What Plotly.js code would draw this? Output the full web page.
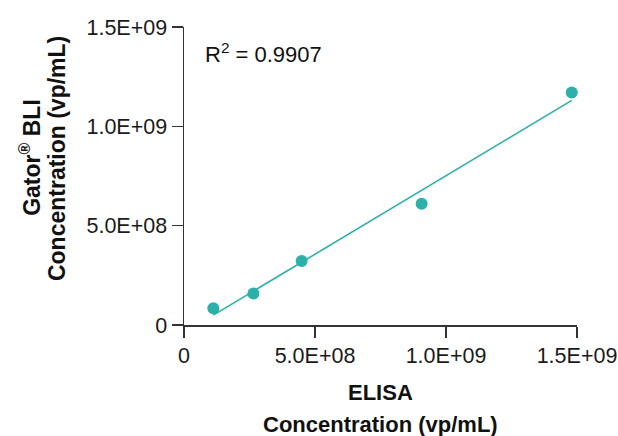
<!DOCTYPE html>
<html>
<head>
<meta charset="utf-8">
<script src="https://cdn.plot.ly/plotly-3.0.1.min.js"></script>
<style>html,body{margin:0;padding:0;background:#fff;}#chart{width:618px;height:436px;}</style>
</head>
<body>
<div id="chart"></div>
<script>
// Data
const elisa = [1.12e8, 2.65e8, 4.49e8, 9.07e8, 1.48e9];
const gator = [8.4e7, 1.59e8, 3.22e8, 6.10e8, 1.17e9];
const tickVals = [0, 5e8, 1e9, 1.5e9];
const tickText = ['0', '5.0E+08', '1.0E+09', '1.5E+09'];
const r2Label = 'R<sup>2</sup> = 0.9907';

// least-squares trendline over the data range
const n = elisa.length;
const mx = elisa.reduce((a, b) => a + b, 0) / n;
const my = gator.reduce((a, b) => a + b, 0) / n;
let sxy = 0, sxx = 0;
for (let i = 0; i < n; i++) { sxy += (elisa[i] - mx) * (gator[i] - my); sxx += (elisa[i] - mx) ** 2; }
const slope = sxy / sxx, icpt = my - slope * mx;
const lx = [Math.min(...elisa), Math.max(...elisa)];
const ly = lx.map(v => slope * v + icpt);

const teal = '#2bb0aa';
const font = 'Liberation Sans, Arial, sans-serif';

const traces = [
  {x: lx, y: ly, mode: 'lines', line: {color: teal, width: 1.6}, hoverinfo: 'skip', cliponaxis: false},
  {x: elisa, y: gator, mode: 'markers', marker: {color: teal, size: 12}, cliponaxis: false}
];

const axisCommon = {
  range: [0, 1.5e9], tickvals: tickVals, ticktext: tickText,
  ticks: 'outside', ticklen: 11, tickwidth: 1.5, tickcolor: '#333',
  showline: true, linecolor: '#333', linewidth: 1.5,
  showgrid: false, zeroline: false,
  tickfont: {family: font, size: 21.5, color: '#1a1a1a'}
};

const layout = {
  width: 618, height: 436,
  margin: {l: 184, r: 41, t: 27, b: 111},
  showlegend: false,
  paper_bgcolor: '#fff', plot_bgcolor: '#fff',
  xaxis: Object.assign({}, axisCommon),
  yaxis: Object.assign({}, axisCommon),
  annotations: [
    {text: r2Label, xref: 'paper', yref: 'paper', x: 0.048, y: 0.913, xanchor: 'left', yanchor: 'middle', showarrow: false,
     font: {family: font, size: 22, color: '#111'}},
    {text: '<b>ELISA</b>', xref: 'paper', yref: 'paper', x: 0.5, y: -0.228, xanchor: 'center', yanchor: 'middle', showarrow: false,
     font: {family: font, size: 22, color: '#111'}},
    {text: '<b>Concentration (vp/mL)</b>', xref: 'paper', yref: 'paper', x: 0.5, y: -0.333, xanchor: 'center', yanchor: 'middle', showarrow: false,
     font: {family: font, size: 22, color: '#111'}},
    {text: '<b>Gator<sup>®</sup> BLI</b>', xref: 'paper', yref: 'paper', x: -0.392, y: 0.564, xanchor: 'center', yanchor: 'middle', textangle: -90, showarrow: false,
     font: {family: font, size: 23, color: '#111'}},
    {text: '<b>Concentration (vp/mL)</b>', xref: 'paper', yref: 'paper', x: -0.323, y: 0.557, xanchor: 'center', yanchor: 'middle', textangle: -90, showarrow: false,
     font: {family: font, size: 23, color: '#111'}}
  ]
};

Plotly.newPlot('chart', traces, layout, {displayModeBar: false, staticPlot: true});
</script>
</body>
</html>
